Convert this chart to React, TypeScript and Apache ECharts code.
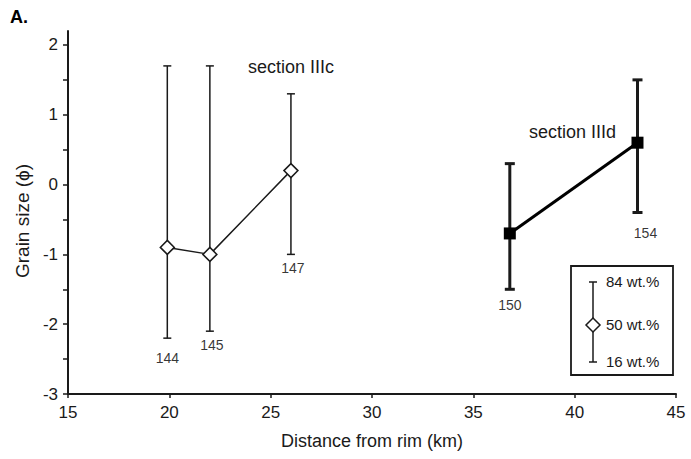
import React, { useEffect, useRef } from "react";
import * as echarts from "echarts";

const samplesC = ["144", "145", "147"];
const distC = [19.9, 22.0, 26.0];
const p50C = [-0.9, -1.0, 0.2];
const p84C = [1.7, 1.7, 1.3];
const p16C = [-2.2, -2.1, -1.0];

const samplesD = ["150", "154"];
const distD = [36.8, 43.1];
const p50D = [-0.7, 0.6];
const p84D = [0.3, 1.5];
const p16D = [-1.5, -0.4];

const yLabels = [-3, -2, -1, 0, 1, 2];
const yTicks = [-3, -2.5, -2, -1.5, -1, -0.5, 0, 0.5, 1, 1.5, 2];

const FONT = "Liberation Sans, Arial, sans-serif";
const INK = "#1a1a1a";

function errorSeries(dist: number[], lo: number[], hi: number[], width: number, cap: number) {
  return {
    type: "custom",
    data: dist.map((d, i) => [d, lo[i], hi[i]]),
    z: 2,
    renderItem: (params: any, api: any) => {
      const x = api.value(0);
      const p1 = api.coord([x, api.value(1)]);
      const p2 = api.coord([x, api.value(2)]);
      const st = { stroke: INK, lineWidth: width };
      return {
        type: "group",
        children: [
          { type: "line", shape: { x1: p1[0], y1: p1[1], x2: p2[0], y2: p2[1] }, style: st },
          { type: "line", shape: { x1: p1[0] - cap, y1: p1[1], x2: p1[0] + cap, y2: p1[1] }, style: st },
          { type: "line", shape: { x1: p2[0] - cap, y1: p2[1], x2: p2[0] + cap, y2: p2[1] }, style: st },
        ],
      };
    },
  };
}

function labelSeries(dist: number[], lo: number[], names: string[], offsets: number[][]) {
  return {
    type: "scatter",
    symbolSize: 0,
    z: 5,
    data: dist.map((d, i) => ({
      value: [d, lo[i]],
      label: {
        show: true,
        position: "bottom",
        offset: offsets[i],
        formatter: names[i],
        fontSize: 14,
        fontFamily: FONT,
        color: "#000",
      },
    })),
  };
}

export default function App() {
  const ref = useRef<HTMLDivElement>(null);
  useEffect(() => {
    const chart = echarts.init(ref.current!, undefined, { renderer: "svg" });
    chart.setOption({
      animation: false,
      backgroundColor: "#ffffff",
      grid: { left: 68, right: 15, top: 31, bottom: 65 },
      xAxis: {
        type: "value",
        min: 15,
        max: 45,
        interval: 5,
        name: "Distance from rim (km)",
        nameLocation: "middle",
        nameGap: 38,
        nameTextStyle: { fontSize: 18, fontFamily: FONT, color: INK },
        axisLine: { onZero: false, lineStyle: { color: INK, width: 2 } },
        axisTick: { show: true, length: 4, lineStyle: { color: INK, width: 1.5 } },
        axisLabel: { fontSize: 17, fontFamily: FONT, color: INK, margin: 10 },
        splitLine: { show: false },
      },
      yAxis: {
        type: "value",
        min: -3,
        max: 2.2,
        axisLine: { show: true, onZero: false, lineStyle: { color: INK, width: 2 } },
        axisTick: { show: true, length: 5, customValues: yTicks, lineStyle: { color: INK, width: 1.5 } },
        axisLabel: { fontSize: 17, fontFamily: FONT, color: INK, margin: 10, customValues: yLabels },
        splitLine: { show: false },
      },
      graphic: [
        { type: "text", left: 10, top: 8, style: { text: "A.", fontSize: 18, fontWeight: "bold", fontFamily: FONT, fill: "#000" } },
        {
          type: "text",
          x: 22,
          y: 221,
          rotation: Math.PI / 2,
          style: { text: "Grain size (\u03d5)", fontSize: 19, fontFamily: FONT, fill: INK, align: "center", verticalAlign: "middle" },
        },
        { type: "text", x: 248, y: 58, style: { text: "section IIIc", fontSize: 18, fontFamily: FONT, fill: INK } },
        { type: "text", x: 529, y: 123, style: { text: "section IIId", fontSize: 18, fontFamily: FONT, fill: INK } },
        { type: "rect", shape: { x: 571, y: 266, width: 102, height: 109 }, style: { fill: "#fff", stroke: INK, lineWidth: 1.8 } },
        { type: "line", shape: { x1: 593, y1: 282, x2: 593, y2: 362 }, style: { stroke: INK, lineWidth: 1.5 } },
        { type: "line", shape: { x1: 589, y1: 282, x2: 597, y2: 282 }, style: { stroke: INK, lineWidth: 1.5 } },
        { type: "line", shape: { x1: 589, y1: 362, x2: 597, y2: 362 }, style: { stroke: INK, lineWidth: 1.5 } },
        { type: "polygon", shape: { points: [[593, 318], [600, 325], [593, 332], [586, 325]] }, style: { fill: "#fff", stroke: INK, lineWidth: 1.5 } },
        { type: "text", x: 606, y: 274, style: { text: "84 wt.%", fontSize: 15, fontFamily: FONT, fill: INK } },
        { type: "text", x: 606, y: 317, style: { text: "50 wt.%", fontSize: 15, fontFamily: FONT, fill: INK } },
        { type: "text", x: 606, y: 354, style: { text: "16 wt.%", fontSize: 15, fontFamily: FONT, fill: INK } },
      ],
      series: [
        errorSeries(distC, p16C, p84C, 1.5, 4),
        errorSeries(distD, p16D, p84D, 3, 5),
        {
          type: "line",
          data: distC.map((d, i) => [d, p50C[i]]),
          symbol: "diamond",
          symbolSize: 14,
          itemStyle: { color: "#fff", borderColor: INK, borderWidth: 1.5 },
          lineStyle: { color: INK, width: 1.5 },
          z: 3,
        },
        {
          type: "line",
          data: distD.map((d, i) => [d, p50D[i]]),
          symbol: "rect",
          symbolSize: 12,
          itemStyle: { color: "#000", borderColor: "#000", borderWidth: 0 },
          lineStyle: { color: "#000", width: 3 },
          z: 3,
        },
        labelSeries(distC, p16C, samplesC, [[0, 8], [2, 2], [2, 2]]),
        labelSeries(distD, p16D, samplesD, [[0, 4], [8, 8]]),
      ],
    });
    return () => chart.dispose();
  }, []);
  return <div ref={ref} style={{ width: 691, height: 459, position: "absolute", left: 0, top: 0 }} />;
}
